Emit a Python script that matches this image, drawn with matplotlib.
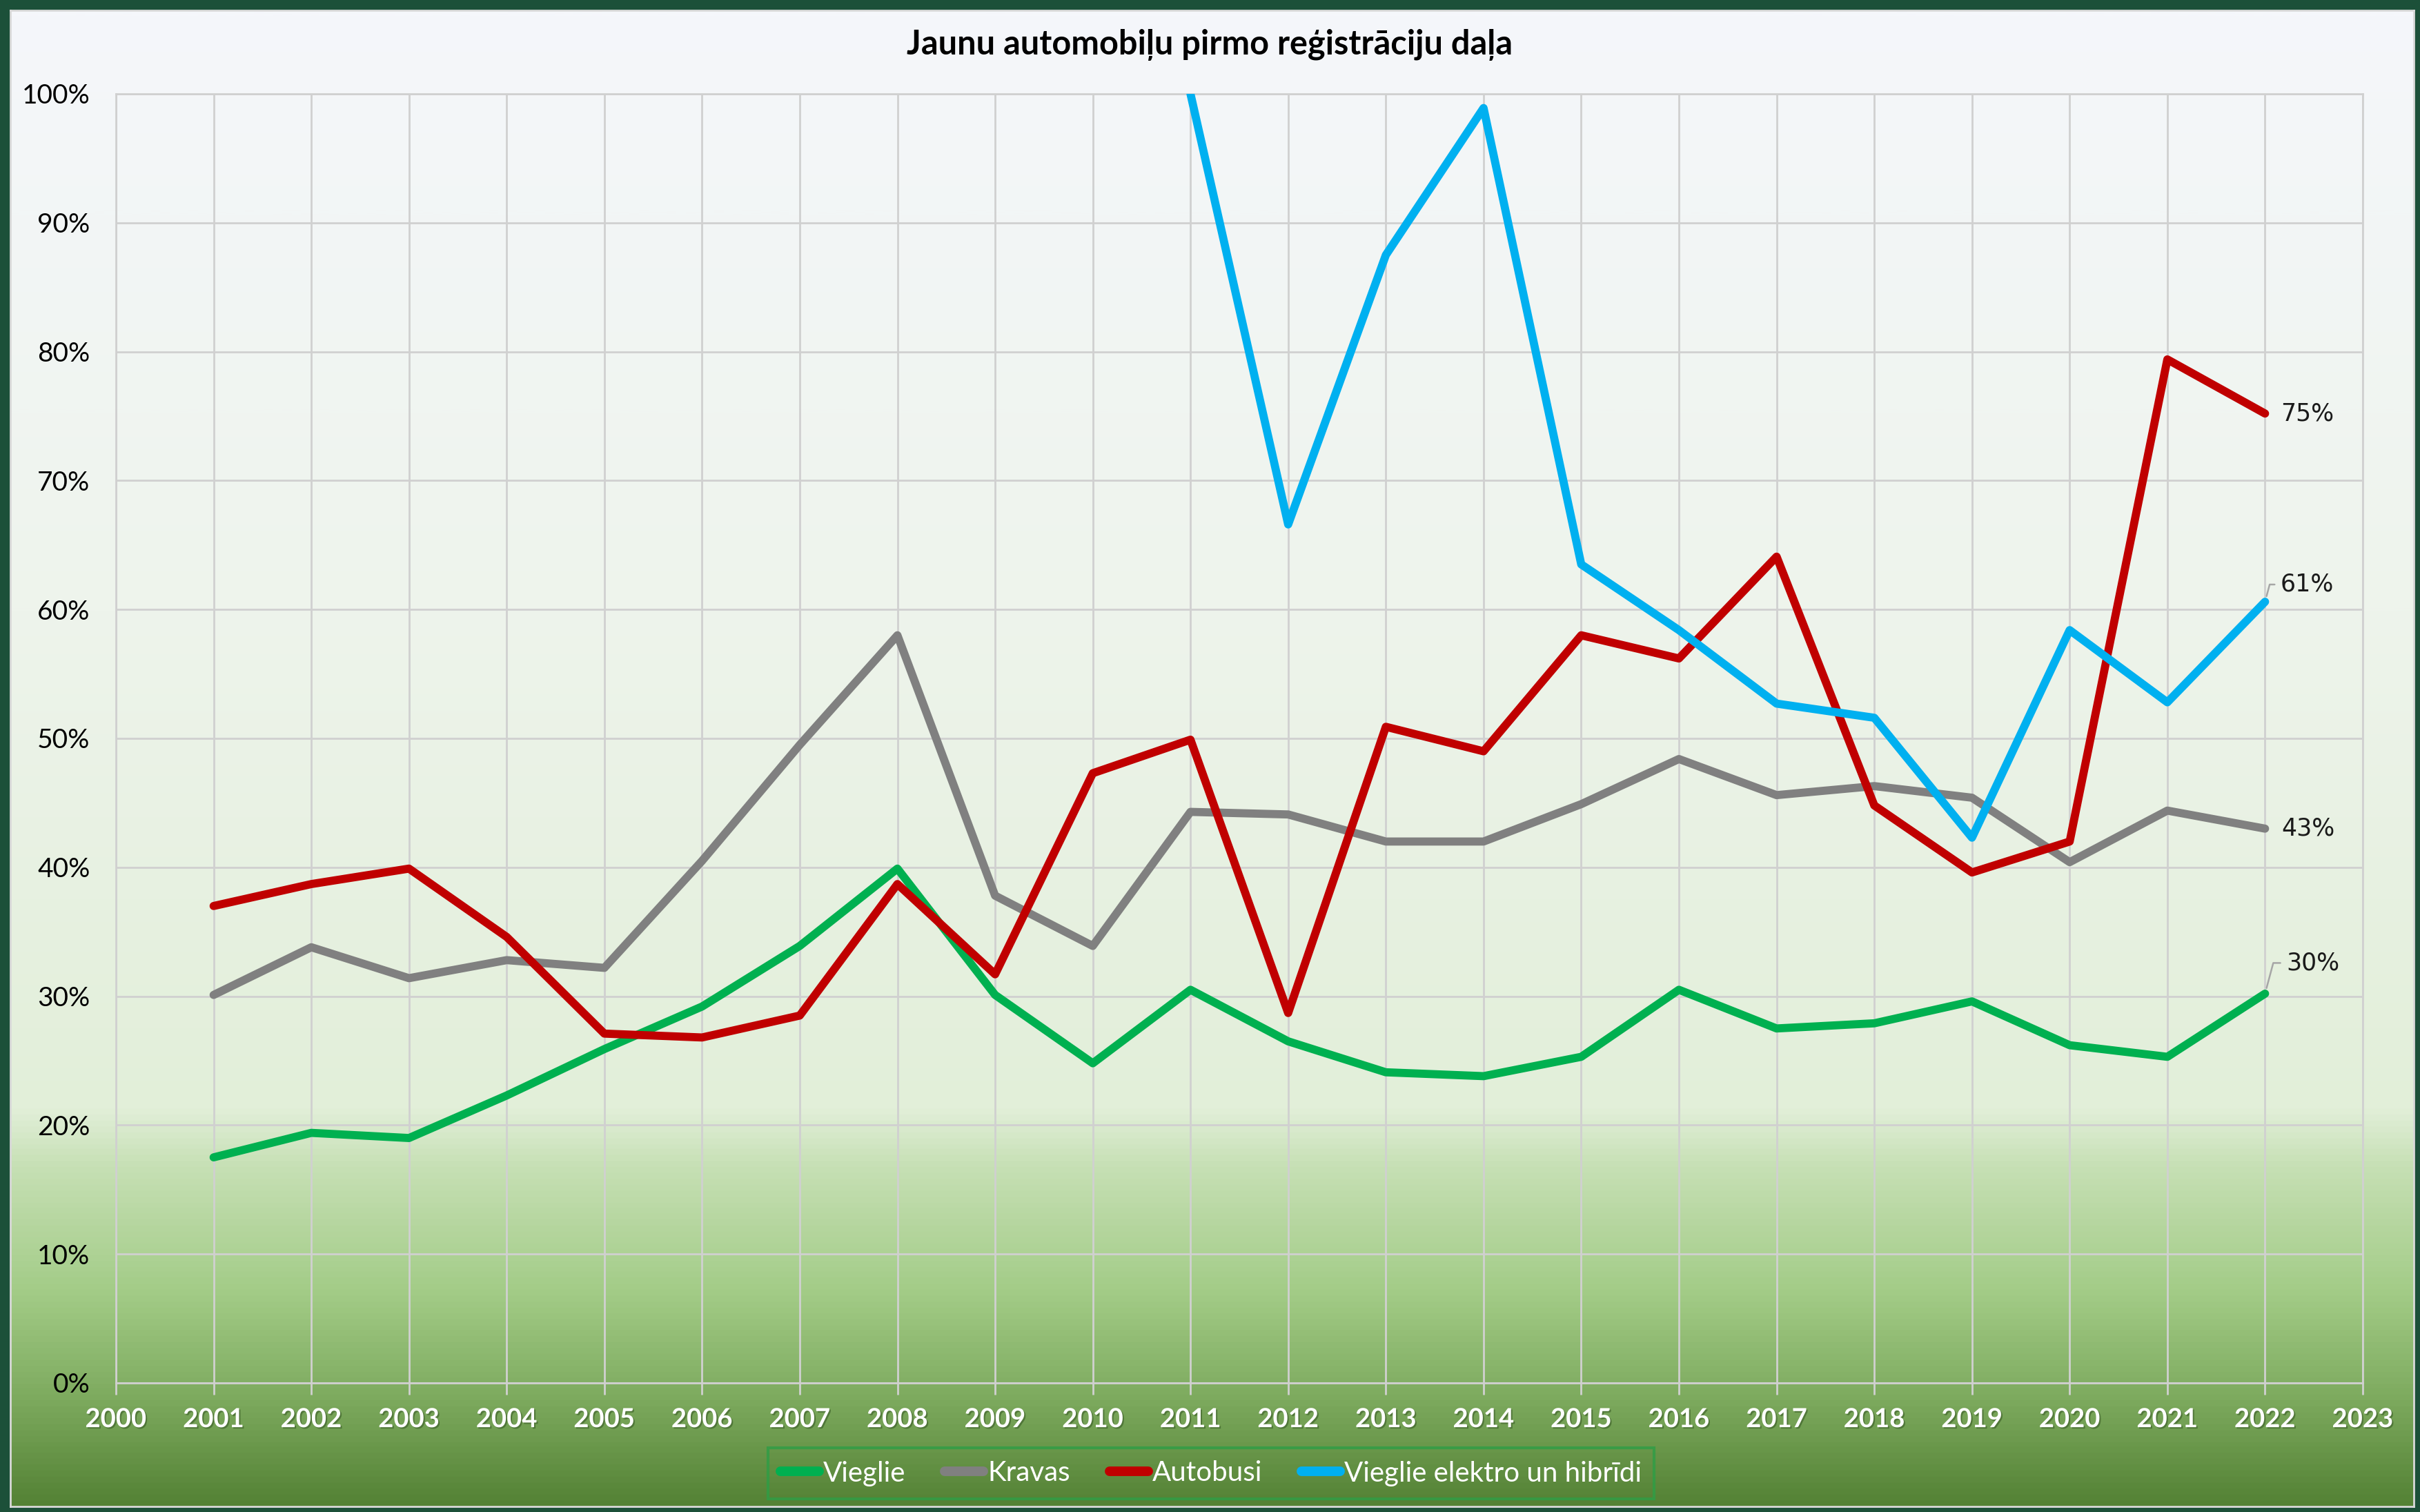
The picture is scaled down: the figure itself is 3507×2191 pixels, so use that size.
import numpy as np
import matplotlib
matplotlib.use("Agg")
import matplotlib.pyplot as plt
from matplotlib.colors import LinearSegmentedColormap
from matplotlib.ticker import PercentFormatter
import matplotlib.patheffects as pe

# ---- data -------------------------------------------------------------
years = list(range(2001, 2023))
vieglie = [17.5, 19.4, 19.0, 22.3, 25.9, 29.2, 33.9, 39.9, 30.1, 24.8, 30.5,
           26.5, 24.1, 23.8, 25.3, 30.5, 27.5, 27.9, 29.6, 26.2, 25.3, 30.2]
kravas = [30.1, 33.8, 31.4, 32.8, 32.2, 40.5, 49.5, 58.0, 37.8, 33.9, 44.3,
          44.1, 42.0, 42.0, 44.9, 48.4, 45.6, 46.3, 45.4, 40.4, 44.4, 43.0]
autobusi = [37.0, 38.7, 39.9, 34.6, 27.1, 26.8, 28.5, 38.7, 31.7, 47.3, 49.9,
            28.7, 50.9, 49.0, 58.0, 56.2, 64.1, 44.8, 39.6, 42.0, 79.4, 75.2]
elektro_years = list(range(2011, 2023))
elektro = [100.0, 66.6, 87.5, 98.9, 63.5, 58.4, 52.7, 51.6, 42.3, 58.4, 52.8, 60.6]

series_names = ["Vieglie", "Kravas", "Autobusi", "Vieglie elektro un hibrīdi"]
series_colors = ["#00B050", "#808080", "#C00000", "#00B0F0"]
title = "Jaunu automobiļu pirmo reģistrāciju daļa"

W, H, DPI = 3507, 2191, 100
fig = plt.figure(figsize=(W / DPI, H / DPI), dpi=DPI)
fig.patch.set_facecolor("#1C5039")

# chart area with vertical gradient fill
cx0, cy0, cx1, cy1 = 15, 15, 3498, 2183
bg = fig.add_axes([cx0 / W, 1 - cy1 / H, (cx1 - cx0) / W, (cy1 - cy0) / H], zorder=0)
stops = [(0.0, "#F5F7FB"), (0.40, "#EEF4EC"), (0.735, "#E2EFD9"),
         (0.775, "#C6E0B4"), (0.86, "#A2CB86"), (0.93, "#7DAA5E"), (1.0, "#548235")]
cmap = LinearSegmentedColormap.from_list("chartbg", stops)
grad = np.linspace(0, 1, 1000).reshape(-1, 1)
bg.imshow(grad, aspect="auto", cmap=cmap, extent=[0, 1, 1, 0])
bg.set_xlim(0, 1)
bg.set_ylim(1, 0)
bg.set_xticks([])
bg.set_yticks([])
for s in bg.spines.values():
    s.set_color("#D9D9D9")
    s.set_linewidth(2)

# plot area
px0, py0, px1, py1 = 168, 136, 3424, 2004
ax = fig.add_axes([px0 / W, 1 - py1 / H, (px1 - px0) / W, (py1 - py0) / H], zorder=2)
ax.patch.set_alpha(0)

lw = 8.5
line_kw = dict(linewidth=lw, solid_capstyle="round", solid_joinstyle="round", zorder=3)
ax.plot(years, np.array(vieglie) / 100, color=series_colors[0], label=series_names[0], **line_kw)
ax.plot(years, np.array(kravas) / 100, color=series_colors[1], label=series_names[1], **line_kw)
ax.plot(years, np.array(autobusi) / 100, color=series_colors[2], label=series_names[2], **line_kw)
ax.plot(elektro_years, np.array(elektro) / 100, color=series_colors[3], label=series_names[3], **line_kw)

ax.set_xlim(2000, 2023)
ax.set_ylim(0, 1)
ax.set_xticks(range(2000, 2024))
ax.set_yticks(np.arange(0, 1.01, 0.1))
ax.yaxis.set_major_formatter(PercentFormatter(1.0, decimals=0))
ax.grid(True, color="#D0D0D0", linewidth=2, zorder=1)
ax.set_axisbelow(True)
for s in ax.spines.values():
    s.set_color("#D0D0D0")
    s.set_linewidth(2)
ax.tick_params(axis="x", length=12, width=2, color="#D0D0D0", pad=14)
ax.tick_params(axis="y", length=0, pad=27)

for lab in ax.get_xticklabels():
    lab.set_fontfamily("Lato")
    lab.set_fontweight("bold")
    lab.set_fontsize(27.5)
    lab.set_color("white")
    lab.set_path_effects([pe.withSimplePatchShadow(offset=(1.5, -1.5), shadow_rgbFace="#2F4F1F", alpha=0.5)])
for lab in ax.get_yticklabels():
    lab.set_fontfamily("Lato")
    lab.set_fontsize(28)
    lab.set_color("black")

# end-of-series value labels
lab_kw = dict(textcoords="offset points", fontsize=25, family="DejaVu Sans",
              color="#1A1A1A", ha="left", va="center", zorder=4, annotation_clip=False)
ax.annotate(f"{autobusi[-1]:.0f}%", xy=(years[-1], autobusi[-1] / 100), xytext=(16, 0), **lab_kw)
ax.annotate(f"{kravas[-1]:.0f}%", xy=(years[-1], kravas[-1] / 100), xytext=(17, 0), **lab_kw)
leader = dict(arrowstyle="-", color="#A6A6A6", lw=1.8, shrinkA=4, shrinkB=6,
              relpos=(0, 0.5), connectionstyle="angle,angleA=0,angleB=75,rad=0")
ax.annotate(f"{elektro[-1]:.0f}%", xy=(elektro_years[-1], elektro[-1] / 100), xytext=(16, 18),
            arrowprops=leader, **lab_kw)
ax.annotate(f"{vieglie[-1]:.0f}%", xy=(years[-1], vieglie[-1] / 100), xytext=(22, 32),
            arrowprops=leader, **lab_kw)

# title
fig.text(0.5, 1 - 65 / H, title, ha="center", va="center", fontsize=35,
         fontweight="bold", family="Lato", color="black")

# legend
leg = fig.legend(loc="center", bbox_to_anchor=(1755 / W, 1 - 2135 / H), ncol=4,
                 frameon=True, handlelength=1.4, handletextpad=0.15,
                 columnspacing=1.4, borderpad=0.45, prop={"family": "Lato", "size": 29})
frame = leg.get_frame()
frame.set_facecolor("none")
frame.set_edgecolor("#2E9E46")
frame.set_linewidth(3)
frame.set_boxstyle("square", pad=0)
for t in leg.get_texts():
    t.set_color("white")
for h in leg.get_lines():
    h.set_linewidth(10)
    h.set_solid_capstyle("round")

fig.savefig("out.png", dpi=DPI, facecolor=fig.get_facecolor())
